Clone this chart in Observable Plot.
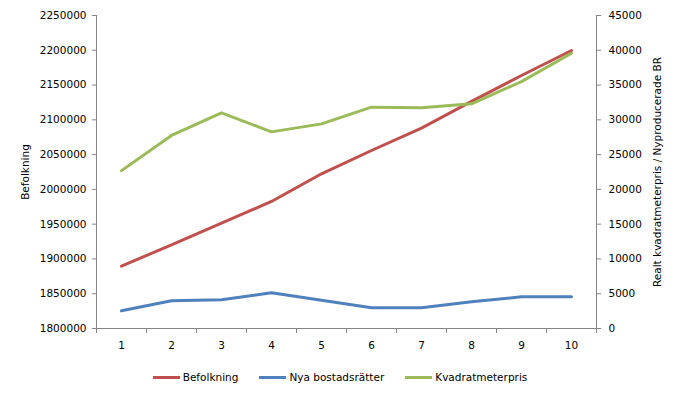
<!DOCTYPE html>
<html>
<head>
<meta charset="utf-8">
<script src="https://cdn.jsdelivr.net/npm/d3@7"></script>
<script src="https://cdn.jsdelivr.net/npm/@observablehq/plot@0.6"></script>
<style>
  html, body { margin: 0; padding: 0; background: #fff; }
  #chart { width: 680px; font-family: "DejaVu Sans", sans-serif; }
  .legend { display: flex; justify-content: center; gap: 21px; height: 34px; align-items: center; font-size: 10.5px; color: #000; padding-left: 0px; }
  .legend .item { display: flex; align-items: center; }
  .legend .sw { width: 27px; height: 3px; margin-right: 3px; }
</style>
</head>
<body>
<div id="chart"></div>
<script>
const years = [1, 2, 3, 4, 5, 6, 7, 8, 9, 10];
const befolkning = [1889600, 1920300, 1951400, 1982600, 2022400, 2055900, 2088000, 2126500, 2163700, 2199700];
const nyaBostadsratter = [2540, 3980, 4120, 5130, 4070, 2970, 2970, 3840, 4550, 4550];
const kvadratmeterpris = [22700, 27750, 31000, 28270, 29420, 31820, 31720, 32300, 35500, 39580];
const leftTicks = [1800000, 1850000, 1900000, 1950000, 2000000, 2050000, 2100000, 2150000, 2200000, 2250000];
const rightTicks = [0, 5000, 10000, 15000, 20000, 25000, 30000, 35000, 40000, 45000];
const seriesNames = ["Befolkning", "Nya bostadsrätter", "Kvadratmeterpris"];
const seriesColors = ["#C0504D", "#4F81BD", "#9BBB59"];
const leftLabel = "Befolkning";
const rightLabel = "Realt kvadratmeterpris / Nyproducerade BR";

const leftMin = leftTicks[0], leftMax = leftTicks[leftTicks.length - 1];
const rightMax = rightTicks[rightTicks.length - 1];
const k = (leftMax - leftMin) / rightMax;
const toLeft = v => leftMin + v * k;

const rows = [];
years.forEach((x, i) => {
  rows.push({x, y: befolkning[i], s: seriesNames[0]});
  rows.push({x, y: toLeft(nyaBostadsratter[i]), s: seriesNames[1]});
  rows.push({x, y: toLeft(kvadratmeterpris[i]), s: seriesNames[2]});
});

const boundaries = d3.range(0.5, years.length + 1, 1);
const axisGray = "#868686";

const chart = Plot.plot({
  width: 680,
  height: 360,
  marginLeft: 96,
  marginRight: 84,
  marginTop: 15,
  marginBottom: 32,
  style: {fontFamily: "DejaVu Sans, sans-serif", fontSize: "10.5px", color: "#000", background: "#fff"},
  x: {type: "linear", domain: [0.5, years.length + 0.5], axis: null},
  y: {domain: [leftMin, leftMax], axis: null},
  color: {domain: seriesNames, range: seriesColors},
  marks: [
    Plot.axisY({ticks: leftTicks, tickSize: 4, tickPadding: 6, tickFormat: d => String(d), stroke: axisGray, fill: "#000", label: null}),
    Plot.axisY({anchor: "right", ticks: rightTicks.map(toLeft), tickSize: 4, tickPadding: 8, tickFormat: d => String(Math.round((d - leftMin) / k)), stroke: axisGray, fill: "#000", label: null}),
    Plot.axisX({ticks: boundaries, tickSize: 5, tickFormat: () => "", stroke: axisGray, label: null}),
    Plot.axisX({ticks: years, tickSize: 0, tickPadding: 13, tickFormat: d => String(d), fill: "#000", label: null}),
    Plot.ruleX([0.5, years.length + 0.5], {stroke: axisGray}),
    Plot.ruleY([leftMin], {stroke: axisGray}),
    Plot.line(rows, {x: "x", y: "y", z: "s", stroke: "s", strokeWidth: 3, strokeLinejoin: "round", strokeLinecap: "round"}),
    Plot.text([leftLabel], {frameAnchor: "left", textAnchor: "middle", rotate: -90, dx: -71, fill: "#000", text: d => d}),
    Plot.text([rightLabel], {frameAnchor: "right", textAnchor: "middle", rotate: -90, dx: 61, fill: "#000", text: d => d})
  ]
});

const root = document.getElementById("chart");
root.appendChild(chart);

const legend = document.createElement("div");
legend.className = "legend";
seriesNames.forEach((name, i) => {
  const item = document.createElement("div");
  item.className = "item";
  const sw = document.createElement("span");
  sw.className = "sw";
  sw.style.background = seriesColors[i];
  const t = document.createElement("span");
  t.textContent = name;
  item.appendChild(sw);
  item.appendChild(t);
  legend.appendChild(item);
});
root.appendChild(legend);
</script>
</body>
</html>
